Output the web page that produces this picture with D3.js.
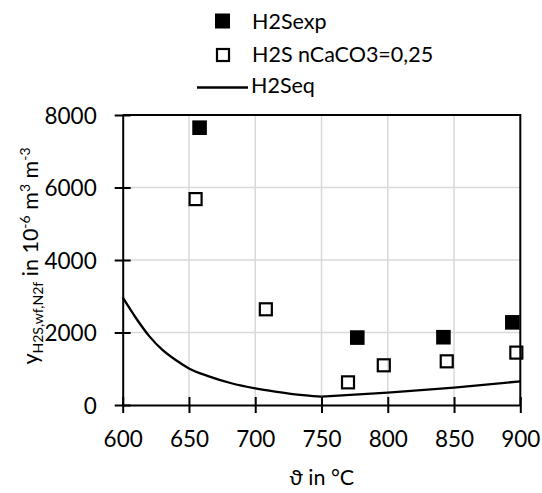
<!DOCTYPE html>
<html>
<head>
<meta charset="utf-8">
<script src="https://cdn.jsdelivr.net/npm/d3@7"></script>
<style>
  body { margin: 0; background: #fff; }
  text { font-family: Lato, "Open Sans", sans-serif; fill: #000; }
</style>
</head>
<body>
<svg id="chart" width="542" height="493"></svg>
<script>
const expT = [658, 777, 842, 894];
const expY = [7650, 1860, 1870, 2280];

const caT = [655, 708, 770, 797, 844.5, 897];
const caY = [5680, 2640, 625, 1095, 1205, 1445];

const eqT = [600, 610, 620, 630, 640, 650, 665, 682, 700, 715, 730, 750, 800, 850, 900];
const eqY = [2970, 2400, 1900, 1520, 1240, 1010, 790, 600, 460, 370, 295, 230, 340, 478, 653];

const xTicks = [600, 650, 700, 750, 800, 850, 900];
const yTicks = [0, 2000, 4000, 6000, 8000];

const svg = d3.select("#chart");

const x = d3.scaleLinear().domain([600, 900]).range([122.7, 520.3]);
const y = d3.scaleLinear().domain([0, 8000]).range([405, 115]);

// grid
svg.append("g").selectAll("line")
    .data(xTicks.slice(1, -1))
    .enter().append("line")
    .attr("x1", d => x(d)).attr("x2", d => x(d))
    .attr("y1", y(0)).attr("y2", y(8000))
    .attr("stroke", "#d9d9d9").attr("stroke-width", 1.5);

svg.append("g").selectAll("line")
    .data(yTicks.slice(1, -1))
    .enter().append("line")
    .attr("x1", x(600)).attr("x2", x(900))
    .attr("y1", d => y(d)).attr("y2", d => y(d))
    .attr("stroke", "#d9d9d9").attr("stroke-width", 1.5);

// frame (top + right)
svg.append("path")
    .attr("d", `M${x(600)},${y(8000)}H${x(900)}V${y(0)}`)
    .attr("fill", "none").attr("stroke", "#000").attr("stroke-width", 2);

// axes
const xAxis = svg.append("g")
    .attr("transform", `translate(0,${y(0)})`)
    .call(d3.axisBottom(x).tickValues(xTicks).tickFormat(d3.format("d")).tickSizeInner(8).tickSizeOuter(0));
xAxis.select(".domain").attr("stroke-width", 2);
xAxis.selectAll(".tick line").attr("y1", -8).attr("stroke-width", 2);
xAxis.selectAll(".tick text")
    .attr("y", 41.5).attr("dy", 0)
    .style("font-size", "22.5px").style("font-family", "Lato, sans-serif");

const yAxis = svg.append("g")
    .attr("transform", `translate(${x(600)},0)`)
    .call(d3.axisLeft(y).tickValues(yTicks).tickFormat(d3.format("d")).tickSizeInner(8).tickSizeOuter(0));
yAxis.select(".domain").attr("stroke-width", 2);
yAxis.selectAll(".tick line").attr("x1", 8).attr("stroke-width", 2);
yAxis.selectAll(".tick text")
    .attr("x", -26).attr("dy", "0.36em")
    .style("font-size", "22.5px").style("font-family", "Lato, sans-serif");

// equilibrium line: smooth descent to the minimum at 750, then straight segments
const eq = eqT.map((t, i) => [t, eqY[i]]);
const eqLine = d3.line().x(d => x(d[0])).y(d => y(d[1]));
svg.append("path")
    .datum(eq.filter(d => d[0] <= 750))
    .attr("d", eqLine.curve(d3.curveMonotoneX))
    .attr("fill", "none").attr("stroke", "#000").attr("stroke-width", 2.3);
svg.append("path")
    .datum(eq.filter(d => d[0] >= 750))
    .attr("d", eqLine.curve(d3.curveLinear))
    .attr("fill", "none").attr("stroke", "#000").attr("stroke-width", 2.3);

// open squares
svg.append("g").selectAll("rect")
    .data(caT.map((t, i) => [t, caY[i]]))
    .enter().append("rect")
    .attr("x", d => x(d[0]) - 6).attr("y", d => y(d[1]) - 6)
    .attr("width", 12).attr("height", 12)
    .attr("fill", "none").attr("stroke", "#000").attr("stroke-width", 2.2);

// filled squares
svg.append("g").selectAll("rect")
    .data(expT.map((t, i) => [t, expY[i]]))
    .enter().append("rect")
    .attr("x", d => x(d[0]) - 7.3).attr("y", d => y(d[1]) - 7.3)
    .attr("width", 14.6).attr("height", 14.6)
    .attr("fill", "#000");

// legend
const leg = svg.append("g").style("font-size", "21.5px");
leg.append("rect").attr("x", 215).attr("y", 13.5).attr("width", 15).attr("height", 15).attr("fill", "#000");
leg.append("text").attr("x", 252).attr("y", 28.5).text("H2Sexp");
leg.append("rect").attr("x", 217).attr("y", 49).attr("width", 12).attr("height", 12)
    .attr("fill", "none").attr("stroke", "#000").attr("stroke-width", 2.2);
leg.append("text").attr("x", 252).attr("y", 61.5).text("H2S nCaCO3=0,25");
leg.append("line").attr("x1", 197).attr("x2", 248).attr("y1", 87.5).attr("y2", 87.5)
    .attr("stroke", "#000").attr("stroke-width", 2.3);
leg.append("text").attr("x", 251).attr("y", 92.5).text("H2Seq");

// axis titles
svg.append("text")
    .attr("x", 321.7).attr("y", 485)
    .attr("text-anchor", "middle")
    .style("font-size", "21.5px")
    .text("\u03D1 in \u00B0C");

const yl = svg.append("text")
    .attr("transform", "translate(38,256) rotate(-90)")
    .attr("text-anchor", "middle")
    .style("font-size", "21.5px");
yl.append("tspan").text("y");
yl.append("tspan").attr("dy", 4.5).style("font-size", "14px").text("H2S,wf,N2f");
yl.append("tspan").attr("dy", -4.5).text(" in 10");
yl.append("tspan").attr("dy", -8).style("font-size", "14px").text("-6");
yl.append("tspan").attr("dy", 8).text(" m");
yl.append("tspan").attr("dy", -8).style("font-size", "14px").text("3");
yl.append("tspan").attr("dy", 8).text(" m");
yl.append("tspan").attr("dy", -8).style("font-size", "14px").text("-3");
</script>
</body>
</html>
